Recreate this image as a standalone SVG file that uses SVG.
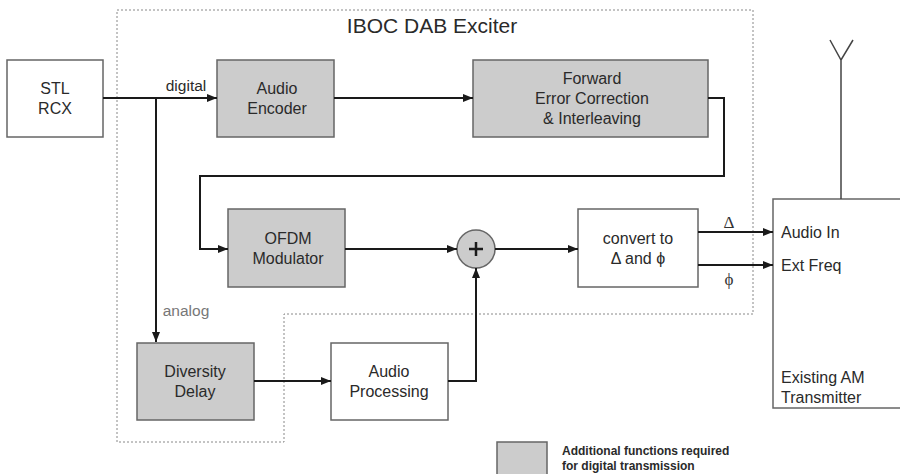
<svg xmlns="http://www.w3.org/2000/svg" width="900" height="474" viewBox="0 0 900 474">
<defs>
<marker id="ah" viewBox="0 0 10 8" refX="10" refY="4" markerWidth="10" markerHeight="8" markerUnits="userSpaceOnUse" orient="auto">
<path d="M0,0 L10,4 L0,8 z" fill="#1a1a1a"/>
</marker>
</defs>
<style>
.box{fill:#ffffff;stroke:#666;stroke-width:1.5}
.g{fill:#cccccc;stroke:#666;stroke-width:1.5}
.t{font-family:"Liberation Sans",Arial,sans-serif;font-size:16px;fill:#2a2a2a;text-anchor:middle}
.tl{font-family:"Liberation Sans",Arial,sans-serif;font-size:16px;fill:#2a2a2a}
.sym{font-family:"Liberation Serif","DejaVu Serif",serif;font-size:17px;fill:#333;text-anchor:middle}
.w{fill:none;stroke:#1a1a1a;stroke-width:2}
.dot{fill:none;stroke:#888;stroke-width:1;stroke-dasharray:2,2}
</style>
<rect width="900" height="474" fill="#fff"/>
<g id="exciter-boundary">
<path class="dot" d="M117,10 H753 V314 H284 V442 H117 Z"/>
<text x="432" y="33" class="t" style="font-size:21px">IBOC DAB Exciter</text>
</g>
<g id="stl">
<rect class="box" x="7" y="60" width="96" height="77"/>
<text x="55" y="94" class="t">STL</text>
<text x="55" y="114" class="t">RCX</text>
</g>
<g id="audio-encoder">
<rect class="g" x="217" y="60" width="117" height="77"/>
<text x="277" y="94" class="t">Audio</text>
<text x="277" y="114" class="t">Encoder</text>
</g>
<g id="fec">
<rect class="g" x="473" y="60" width="235" height="77"/>
<text x="592" y="84" class="t">Forward</text>
<text x="592" y="104" class="t">Error Correction</text>
<text x="592" y="124" class="t">&amp; Interleaving</text>
</g>
<g id="ofdm">
<rect class="g" x="228" y="209" width="117" height="78"/>
<text x="288" y="244" class="t">OFDM</text>
<text x="288" y="264" class="t">Modulator</text>
</g>
<g id="sum">
<circle cx="476" cy="249" r="19" fill="#cccccc" stroke="#666" stroke-width="1.5"/>
<path d="M469,249 H483 M476,242 V256" stroke="#1a1a1a" stroke-width="2.5"/>
</g>
<g id="convert">
<rect class="box" x="578" y="209" width="120" height="78"/>
<text x="638" y="244" class="t">convert to</text>
<text x="638" y="264" class="t">Δ and ϕ</text>
</g>
<g id="diversity-delay">
<rect class="g" x="137" y="343" width="117" height="77"/>
<text x="195" y="377" class="t">Diversity</text>
<text x="195" y="397" class="t">Delay</text>
</g>
<g id="audio-processing">
<rect class="box" x="331" y="343" width="117" height="77"/>
<text x="389" y="377" class="t">Audio</text>
<text x="389" y="397" class="t">Processing</text>
</g>
<g id="transmitter">
<rect class="box" x="773" y="199" width="140" height="209"/>
<text x="781" y="238" class="tl">Audio In</text>
<text x="781" y="271" class="tl">Ext Freq</text>
<text x="781" y="383" class="tl">Existing AM</text>
<text x="781" y="403" class="tl">Transmitter</text>
</g>
<g id="antenna">
<path d="M841,199 V60 M830,40 L841,60 L853,40" fill="none" stroke="#444" stroke-width="1.5"/>
</g>
<g id="connectors">
<path class="w" d="M103,98 H217" marker-end="url(#ah)"/>
<path class="w" d="M156,98 V342" marker-end="url(#ah)"/>
<path class="w" d="M334,98 H473" marker-end="url(#ah)"/>
<path class="w" d="M708,98 H724 V176 H200 V249 H228" marker-end="url(#ah)"/>
<path class="w" d="M345,249 H457" marker-end="url(#ah)"/>
<path class="w" d="M495,249 H578" marker-end="url(#ah)"/>
<path class="w" d="M698,232 H773" marker-end="url(#ah)"/>
<path class="w" d="M698,265 H773" marker-end="url(#ah)"/>
<path class="w" d="M254,381 H331" marker-end="url(#ah)"/>
<path class="w" d="M448,381 H476 V268" marker-end="url(#ah)"/>
<text x="186" y="91" class="t" style="font-size:15.5px">digital</text>
<text x="186" y="316" class="t" style="font-size:15.5px;fill:#777">analog</text>
<text x="729" y="228" class="sym">Δ</text>
<text x="729" y="285" class="sym">ϕ</text>
</g>
<g id="legend">
<rect class="g" x="497" y="442" width="50" height="40"/>
<text x="562" y="455" class="tl" style="font-size:12px;font-weight:bold">Additional functions required</text>
<text x="562" y="470" class="tl" style="font-size:12px;font-weight:bold">for digital transmission</text>
</g>
</svg>
